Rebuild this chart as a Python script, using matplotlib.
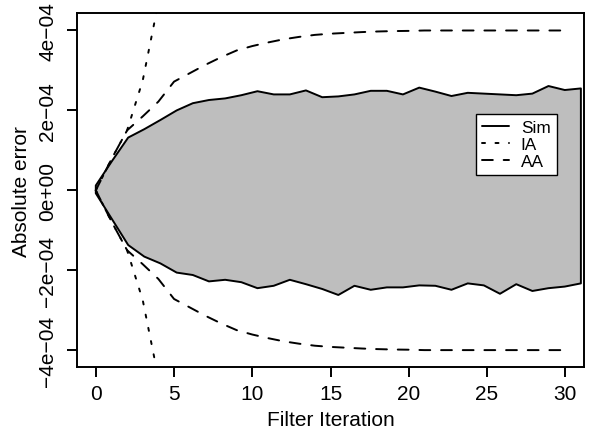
import matplotlib
matplotlib.use("Agg")
import matplotlib.pyplot as plt
from matplotlib.lines import Line2D

# ---------------- data (values in units of 1e-4) ----------------
# Sim band: 31 points drawn evenly from 0 to 31 on the axis
sim_x = [0.00, 1.03, 2.07, 3.10, 4.13, 5.17, 6.20, 7.23, 8.27, 9.30,
         10.33, 11.37, 12.40, 13.43, 14.47, 15.50, 16.53, 17.57, 18.60, 19.63,
         20.67, 21.70, 22.73, 23.77, 24.80, 25.83, 26.87, 27.90, 28.93, 29.97, 31.00]
sim_upper = [0.12, 0.73, 1.32, 1.53, 1.76, 2.00, 2.18, 2.26, 2.30, 2.38,
             2.48, 2.40, 2.40, 2.50, 2.33, 2.35, 2.40, 2.49, 2.49, 2.40,
             2.57, 2.47, 2.36, 2.44, 2.42, 2.40, 2.38, 2.42, 2.61, 2.51, 2.55]
sim_lower = [-0.075, -0.72, -1.37, -1.66, -1.83, -2.06, -2.12, -2.28, -2.24, -2.30,
             -2.45, -2.39, -2.24, -2.35, -2.47, -2.62, -2.39, -2.49, -2.43, -2.43,
             -2.38, -2.39, -2.49, -2.33, -2.38, -2.59, -2.35, -2.52, -2.45, -2.41, -2.33]
# IA bound (grows beyond the plot after iteration 3)
ia_iter = [0, 1, 2, 3, 4]
ia_bound = [0.0, 0.78, 1.50, 2.75, 4.70]
# AA bound, iterations 0..30
aa_iter = list(range(31))
aa_bound = [0.0, 0.78, 1.50, 1.85, 2.22, 2.72, 2.93, 3.14, 3.33, 3.50,
            3.61, 3.70, 3.78, 3.84, 3.89, 3.92, 3.94, 3.96, 3.975, 3.985,
            3.99, 4.00, 4.00, 4.00, 4.00, 4.00, 4.00, 4.00, 4.00, 4.00, 4.00]
scale = 1e-4

x_ticks = [0, 5, 10, 15, 20, 25, 30]
y_ticks = [-4e-4, -2e-4, 0.0, 2e-4, 4e-4]
y_tick_labels = ["\u22124e\u221204", "\u22122e\u221204", "0e+00", "2e\u221204", "4e\u221204"]
legend_labels = ["Sim", "IA", "AA"]

# ---------------- style ----------------
plt.rcParams["font.family"] = ["Liberation Sans", "DejaVu Sans"]
plt.rcParams["lines.scale_dashes"] = False
plt.rcParams["lines.dash_capstyle"] = "round"
plt.rcParams["lines.solid_capstyle"] = "round"
plt.rcParams["lines.dash_joinstyle"] = "round"
plt.rcParams["lines.solid_joinstyle"] = "round"

LW = 1.4
FS = 15
dash_dotted = (2.2, 7.5)
dash_dashed = (7.8, 7.8)

fig = plt.figure(figsize=(5.98, 4.31), dpi=100)
ax = fig.add_axes([0.1288, 0.1455, 0.8478, 0.8213])

up = [v * scale for v in sim_upper]
lo = [v * scale for v in sim_lower]
ax.fill(sim_x + sim_x[::-1], up + lo[::-1],
        facecolor="#BEBEBE", edgecolor="black", linewidth=LW, joinstyle="round")

ia_up = [v * scale for v in ia_bound]
aa_up = [v * scale for v in aa_bound]
ax.plot(ia_iter, ia_up, color="black", lw=LW, dashes=dash_dotted)
ax.plot(ia_iter, [-v for v in ia_up], color="black", lw=LW, dashes=dash_dotted)
ax.plot(aa_iter, aa_up, color="black", lw=LW, dashes=dash_dashed)
ax.plot(aa_iter, [-v for v in aa_up], color="black", lw=LW, dashes=dash_dashed)

ax.set_xlim(-1.2, 31.2)
ax.set_ylim(-4.43e-4, 4.43e-4)
ax.set_xticks(x_ticks)
ax.set_xticklabels([str(t) for t in x_ticks])
ax.set_yticks(y_ticks)
ax.set_yticklabels(y_tick_labels, rotation=90, va="center")

for s in ax.spines.values():
    s.set_linewidth(LW)
ax.tick_params(axis="both", direction="out", length=7.2, width=LW, labelsize=FS)
ax.tick_params(axis="x", pad=4.6)
ax.tick_params(axis="y", pad=7)

ax.set_xlabel("Filter Iteration", fontsize=FS, labelpad=5.0)
ax.set_ylabel("Absolute error", fontsize=FS, labelpad=5.5)

handles = [Line2D([], [], color="black", lw=LW),
           Line2D([], [], color="black", lw=LW, dashes=dash_dotted),
           Line2D([], [], color="black", lw=LW, dashes=dash_dashed)]
leg = ax.legend(handles, legend_labels, loc="upper left",
                bbox_to_anchor=(0.787, 0.7155), bbox_transform=ax.transAxes,
                frameon=True, fancybox=False, edgecolor="black", framealpha=1,
                borderpad=0.35, handlelength=1.56, handletextpad=0.69,
                labelspacing=0.1, borderaxespad=0, fontsize=12.4)
leg.get_frame().set_linewidth(1.0)

fig.savefig("out.png", dpi=100)
